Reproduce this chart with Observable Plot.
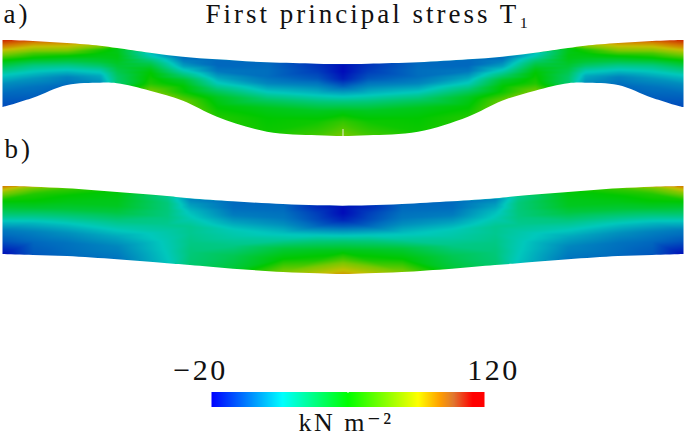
<!DOCTYPE html>
<html>
<head>
<meta charset="utf-8">
<script src="https://cdn.jsdelivr.net/npm/d3@7"></script>
<script src="https://cdn.jsdelivr.net/npm/@observablehq/plot@0.6"></script>
<style>
html,body{margin:0;padding:0;background:#fff;overflow:hidden}
svg{display:block}
</style>
</head>
<body>
<div id="beams"></div>
<div id="bar"></div>
<script>
const titleText = "First principal stress T₁";
const panelLabels = ["a)", "b)"];
const unitLabel = "kN m⁻²";
const tickValues = [-20, 120];
const tickLabels = ["−20", "120"];

// Position across the depth of the beam, 0 = top edge, 1 = bottom edge
const depths = [0, .1, .2, .3, .42, .52, .65, .8, 1];

// Beam a), left half (mirror-symmetric about mid-span)
const stationsA = [2, 33, 67, 100, 117, 150, 183, 217, 267, 317, 342.5];
const topA = [40, 41, 43, 45.7, 48, 52.7, 56.7, 59.3, 62.3, 63.7, 64];
const bottomA = [107, 97.7, 85, 82.7, 83.3, 90.7, 100.7, 116.7, 131.7, 135.3, 136];
const stressA = [
  [118, 98, 70, 50, 30, 16, 4, -3, -8],
  [104, 84, 62, 48, 28, 17, 6, -1, -5],
  [95, 80, 64, 50, 38, 26, 14, 2, -3],
  [70, 54, 49, 46, 40, 32, 20, 10, 4],
  [46, 46, 47, 46, 43, 40, 36, 32, 30],
  [14, 20, 30, 38, 46, 50, 52, 55, 68],
  [-3, 2, 8, 17, 30, 42, 49, 52, 66],
  [-3, -3, 0, 8, 18, 30, 44, 49, 55],
  [-3, -2, -2, 3, 16, 30, 45, 50, 52],
  [-12, -10, -6, 2, 14, 28, 44, 52, 60],
  [-18, -18, -15, -5, 12, 28, 46, 58, 68]
];

// Beam b), left half
const stationsB = [2, 33, 67, 117, 167, 190, 233, 283, 317, 342.5];
const topB = [186, 186.7, 188.3, 192, 196, 198.3, 201.3, 204, 205.3, 205.7];
const bottomB = [254, 255, 256, 259.3, 263.3, 265, 268.7, 272, 273.3, 274];
const stressB = [
  [102, 70, 52, 42, 28, 14, 0, -6, -18],
  [70, 55, 50, 42, 26, 13, 2, -3, -6],
  [58, 50, 46, 40, 26, 15, 5, -1, -3],
  [48, 46, 44, 38, 27, 19, 10, 3, -1],
  [24, 28, 28, 27, 24, 20, 18, 17, 15],
  [2, 8, 14, 18, 24, 24, 26, 28, 30],
  [-3, -2, 1, 8, 17, 20, 26, 35, 40],
  [-3, -2, 0, 5, 14, 22, 40, 50, 70],
  [-14, -10, -8, -3, 14, 28, 44, 54, 85],
  [-18, -18, -14, -4, 14, 30, 46, 64, 96]
];

// Colour stops: the beams are shaded, the colour bar is not
const stressStops = [-20, -2, 16, 50, 68, 86, 102, 120];
const beamColors = ["#0000b8", "#006ebe", "#00c8bc", "#00c800", "#78c800", "#c4c000", "#d47c00", "#cc2200"];
const barStops = [-20, 16.4, 50, 86, 97, 104, 114, 120];
const barColors = ["#0000ff", "#00ffff", "#00ff00", "#ffff00", "#ffa000", "#e07830", "#ff0000", "#ff0000"];

const W = 685, H1 = 345, H2 = 91;
const mirror = x => W - x;

function samples(xs, top, bottom, field) {
  const out = [];
  xs.forEach((x, i) => depths.forEach((d, j) => {
    const y = top[i] + d * (bottom[i] - top[i]);
    out.push({x, y, v: field[i][j]});
    if (x !== W / 2) out.push({x: mirror(x), y, v: field[i][j]});
  }));
  return out;
}
// The white masks run on past both beam ends so that no raster edge shows
function edge(xs, top, bottom) {
  const left = xs.map((x, i) => ({x, top: top[i], bottom: bottom[i]}));
  const right = xs.slice(0, -1).map((x, i) => ({x: mirror(x), top: top[i], bottom: bottom[i]})).reverse();
  const n = xs.length;
  return [
    {x: 0, top: top[0], bottom: bottom[0]},
    ...left, ...right,
    {x: W, top: top[0], bottom: bottom[0]}
  ];
}
const edgeA = edge(stationsA, topA, bottomA);
const edgeB = edge(stationsB, topB, bottomB);
const serif = "'Liberation Serif', 'DejaVu Serif', serif";

const beams = Plot.plot({
  width: W, height: H1, margin: 0,
  x: {domain: [0, W], range: [0, W], axis: null},
  y: {domain: [0, H1], range: [0, H1], axis: null},
  color: {type: "linear", domain: stressStops, range: beamColors, clamp: true},
  style: {background: "transparent", fontFamily: serif, letterSpacing: "3px"},
  marks: [
    Plot.raster(samples(stationsA, topA, bottomA, stressA), {
      x: "x", y: "y", fill: "v", interpolate: "barycentric",
      x1: 2, x2: 683, y1: 36, y2: 140, pixelSize: 1
    }),
    Plot.raster(samples(stationsB, topB, bottomB, stressB), {
      x: "x", y: "y", fill: "v", interpolate: "barycentric",
      x1: 2, x2: 683, y1: 182, y2: 278, pixelSize: 1
    }),
    Plot.areaY(edgeA, {x: "x", y1: 30, y2: "top", fill: "white", curve: "catmull-rom"}),
    Plot.areaY(edgeA, {x: "x", y1: "bottom", y2: 145, fill: "white", curve: "catmull-rom"}),
    Plot.areaY(edgeB, {x: "x", y1: 176, y2: "top", fill: "white", curve: "catmull-rom"}),
    Plot.areaY(edgeB, {x: "x", y1: "bottom", y2: 285, fill: "white", curve: "catmull-rom"}),
    Plot.ruleX([W / 2], {y1: 129, y2: 136, stroke: "#e8f0d8", strokeWidth: 1}),
    Plot.text([titleText], {x: 368, y: 14, text: d => d, fontSize: 27, fill: "#111", textAnchor: "middle"}),
    Plot.text(panelLabels, {
      x: [3, 4], y: [14, 149], text: d => d, fontSize: 27, fill: "#111", textAnchor: "start"
    })
  ]
});
document.getElementById("beams").append(beams);

const bar = Plot.plot({
  width: W, height: H2, margin: 0,
  x: {domain: [-20, 120], range: [211, 484], axis: null},
  y: {domain: [H1, H1 + H2], range: [0, H2], axis: null},
  color: {type: "linear", domain: barStops, range: barColors, clamp: true},
  style: {background: "transparent", fontFamily: serif, letterSpacing: "2.5px"},
  marks: [
    Plot.raster({
      fill: (x, y) => x, x1: -20, x2: 120, y1: 391.5, y2: 406.5, pixelSize: 1
    }),
    Plot.ruleX([50], {y1: 391.5, y2: 393, stroke: "white", strokeWidth: 1}),
    Plot.text([tickLabels[0]], {x: [tickValues[0]], y: 370, text: d => d, fontSize: 30, fill: "#111", textAnchor: "middle", dx: -11}),
    Plot.text([tickLabels[1]], {x: [tickValues[1]], y: 370, text: d => d, fontSize: 30, fill: "#111", textAnchor: "middle", dx: 9}),
    Plot.text([unitLabel], {x: 50, y: 422, text: d => d, fontSize: 26, fill: "#111", textAnchor: "middle", dx: -2})
  ]
});
document.getElementById("bar").append(bar);
</script>
</body>
</html>
